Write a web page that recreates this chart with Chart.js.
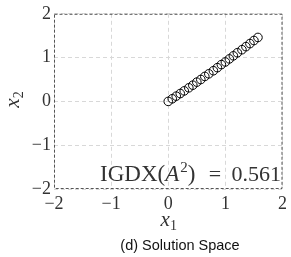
<!DOCTYPE html>
<html>
<head>
<meta charset="utf-8">
<script src="https://cdn.jsdelivr.net/npm/chart.js@4"></script>
<style>
  html, body { margin: 0; padding: 0; background: #fff; }
  canvas { display: block; }
</style>
</head>
<body>
<canvas id="chart" width="291" height="257"></canvas>
<script>
// solution points (x1, x2)
const x1Vals = [0, 0.07, 0.14, 0.21, 0.28, 0.36, 0.43, 0.50, 0.57, 0.64, 0.71, 0.79, 0.86, 0.93, 1.00, 1.07, 1.14, 1.21, 1.29, 1.36, 1.43, 1.50, 1.57];
const x2Vals = [0, 0.06, 0.12, 0.18, 0.24, 0.31, 0.37, 0.44, 0.50, 0.57, 0.63, 0.70, 0.77, 0.84, 0.90, 0.97, 1.04, 1.11, 1.18, 1.25, 1.32, 1.39, 1.46];
const xTicks = [-2, -1, 0, 1, 2];
const yTicks = [-2, -1, 0, 1, 2];
const igdxValue = "0.561";
const caption = "(d) Solution Space";

const SERIF = "'Liberation Serif', 'DejaVu Serif', serif";
const minus = v => (v < 0 ? "\u2212" + Math.abs(v) : String(v));

const frameAndText = {
  id: "frameAndText",
  afterDraw(chart) {
    const { ctx, chartArea: a } = chart;
    ctx.save();

    // dashed frame
    ctx.strokeStyle = "#555";
    ctx.lineWidth = 1;
    ctx.setLineDash([3, 2]);
    ctx.strokeRect(a.left + 0.5, a.top + 0.5, a.right - a.left - 1, a.bottom - a.top - 1);
    ctx.setLineDash([]);

    ctx.fillStyle = "#333";
    ctx.textBaseline = "alphabetic";

    // IGDX(A^2) = 0.561
    const base = 181;
    let x = 100;
    const part = (txt, font, dy) => {
      ctx.font = font;
      ctx.fillText(txt, x, base + (dy || 0));
      x += ctx.measureText(txt).width;
    };
    part("IGDX(", "23px " + SERIF);
    part("A", "italic 23px " + SERIF);
    x += 1;
    part("2", "15px " + SERIF, -9);
    part(")", "23px " + SERIF);
    ctx.font = "22px " + SERIF;
    ctx.textAlign = "center";
    ctx.fillText("=", 215, base);
    ctx.textAlign = "right";
    ctx.fillText(igdxValue, 281, base);
    ctx.textAlign = "left";

    // x1 axis title
    const cx = (a.left + a.right) / 2;
    ctx.font = "italic 21px " + SERIF;
    const wx = ctx.measureText("x").width;
    ctx.fillText("x", cx - wx / 2 - 3, 226);
    ctx.font = "14px " + SERIF;
    ctx.fillText("1", cx + wx / 2 - 3, 230);

    // x2 axis title (rotated)
    ctx.save();
    ctx.translate(19, 100);
    ctx.rotate(-Math.PI / 2);
    ctx.font = "italic 21px " + SERIF;
    ctx.fillText("x", -wx / 2 - 3, 0);
    ctx.font = "14px " + SERIF;
    ctx.fillText("2", wx / 2 - 3, 4);
    ctx.restore();

    // caption
    ctx.font = "14.5px 'Liberation Sans', Arial, sans-serif";
    ctx.textAlign = "center";
    ctx.fillStyle = "#111";
    ctx.fillText(caption, 180, 250);

    ctx.restore();
  }
};

new Chart(document.getElementById("chart"), {
  type: "scatter",
  data: {
    datasets: [{
      data: x1Vals.map((v, i) => ({ x: v, y: x2Vals[i] })),
      pointStyle: "circle",
      pointRadius: 4.3,
      pointBorderWidth: 1,
      pointBorderColor: "#000",
      pointBackgroundColor: "rgba(0,0,0,0)"
    }]
  },
  options: {
    responsive: false,
    animation: false,
    layout: { padding: { top: 13, right: 8, left: 0, bottom: 0 } },
    plugins: { legend: { display: false }, tooltip: { enabled: false } },
    scales: {
      x: {
        min: -2, max: 2,
        afterBuildTicks: s => { s.ticks = xTicks.map(v => ({ value: v })); },
        afterFit: s => { s.height = 68; },
        grid: { color: "#d8d8d8", drawTicks: false },
        border: { display: false, dash: [4, 3] },
        ticks: { padding: 4, color: "#333", font: { family: SERIF, size: 18 }, callback: v => minus(v) }
      },
      y: {
        min: -2, max: 2,
        afterBuildTicks: s => { s.ticks = yTicks.map(v => ({ value: v })); },
        afterFit: s => { s.width = 54; },
        grid: { color: "#d8d8d8", drawTicks: false },
        border: { display: false, dash: [4, 3] },
        ticks: { padding: 3, color: "#333", font: { family: SERIF, size: 18 }, callback: v => minus(v) }
      }
    }
  },
  plugins: [frameAndText]
});
</script>
</body>
</html>
